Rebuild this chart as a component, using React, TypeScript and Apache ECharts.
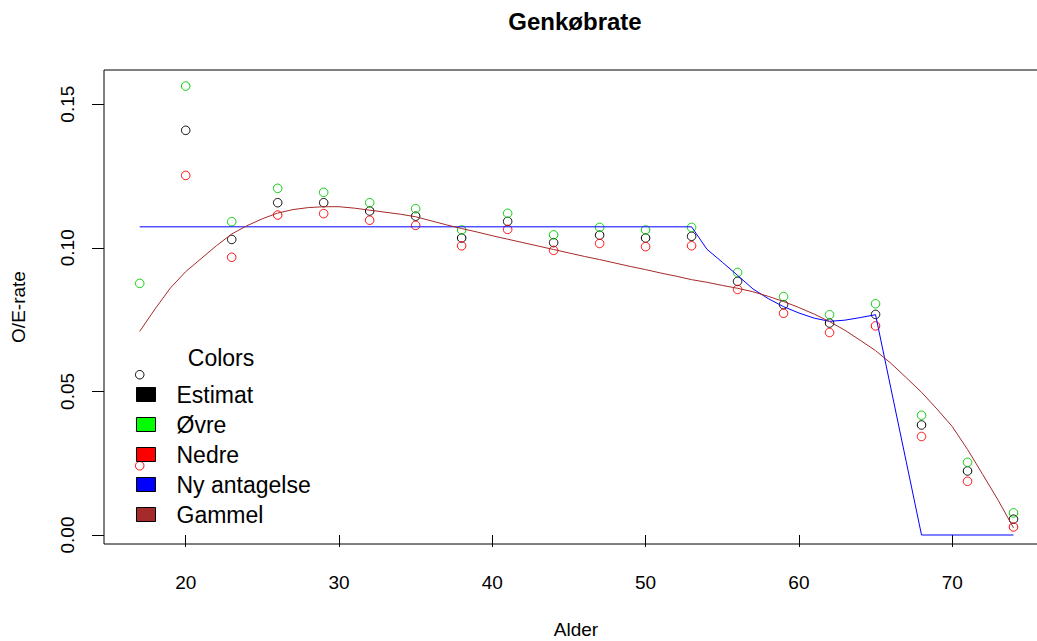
import React, { useEffect, useRef } from "react";
import * as echarts from "echarts";

const ages = [17, 20, 23, 26, 29, 32, 35, 38, 41, 44, 47, 50, 53, 56, 59, 62, 65, 68, 71, 74];
const estimat = [0.0558, 0.1409, 0.1029, 0.1157, 0.1157, 0.1128, 0.111, 0.1034, 0.1092, 0.1018, 0.1044, 0.1034, 0.104, 0.0883, 0.0802, 0.0738, 0.0768, 0.0383, 0.0223, 0.0055];
const ovre = [0.0876, 0.1563, 0.1091, 0.1207, 0.1193, 0.1157, 0.1136, 0.1062, 0.112, 0.1045, 0.1071, 0.1062, 0.1071, 0.0914, 0.083, 0.0767, 0.0805, 0.0417, 0.0253, 0.0077];
const nedre = [0.0241, 0.1252, 0.0967, 0.1114, 0.1119, 0.1096, 0.1078, 0.1007, 0.1064, 0.0991, 0.1015, 0.1004, 0.1007, 0.0855, 0.0772, 0.0705, 0.0728, 0.0343, 0.0187, 0.0028];

const nyAges = [17, 53, 54, 55, 56, 57, 58, 59, 60, 61, 62, 63, 64, 65, 66, 67, 68, 74];
const nyValues = [0.1073, 0.1073, 0.0995, 0.095, 0.0904, 0.0857, 0.0823, 0.0795, 0.0773, 0.0755, 0.0744, 0.0748, 0.0757, 0.0767, 0.0511, 0.0256, 0.0, 0.0];

const gamAges = [17, 18, 19, 20, 21, 22, 23, 24, 25, 26, 27, 28, 29, 30, 31, 32, 33, 34, 35, 36, 37, 38, 39, 40, 41, 42, 43, 44, 45, 46, 47, 48, 49, 50, 51, 52, 53, 54, 55, 56, 57, 58, 59, 60, 61, 62, 63, 64, 65, 66, 67, 68, 69, 70, 71, 72, 73, 74];
const gamValues = [0.0709, 0.0787, 0.086, 0.0917, 0.0962, 0.1007, 0.1048, 0.1077, 0.1101, 0.1121, 0.1133, 0.114, 0.1143, 0.1143, 0.1138, 0.1131, 0.1124, 0.1117, 0.1108, 0.1094, 0.108, 0.1067, 0.1055, 0.1042, 0.103, 0.1018, 0.1006, 0.0994, 0.0982, 0.097, 0.0959, 0.0947, 0.0935, 0.0924, 0.0912, 0.0901, 0.0889, 0.088, 0.0869, 0.0859, 0.0847, 0.0831, 0.0813, 0.0792, 0.0769, 0.0743, 0.0713, 0.0678, 0.0642, 0.0598, 0.0548, 0.0497, 0.0439, 0.0378, 0.0298, 0.021, 0.0121, 0.0025];

const xTicks = [20, 30, 40, 50, 60, 70];
const yTicks = [0, 0.05, 0.1, 0.15];

const FONT = "'Liberation Sans', Arial, sans-serif";

export default function App() {
  const ref = useRef<HTMLDivElement>(null);
  useEffect(() => {
    if (!ref.current) return;
    const chart = echarts.init(ref.current, undefined, { renderer: "svg" });
    const pts = (vals: number[]) => ages.map((a, i) => [a, vals[i]]);
    const scatter = (name: string, vals: number[], color: string) => ({
      name,
      type: "scatter",
      data: pts(vals),
      symbol: "circle",
      symbolSize: 8.5,
      itemStyle: { color: "rgba(0,0,0,0)", borderColor: color, borderWidth: 1, opacity: 1 },
      emphasis: { disabled: true },
    });
    const line = (name: string, xs: number[], ys: number[], color: string) => ({
      name,
      type: "line",
      data: xs.map((x, i) => [x, ys[i]]),
      symbol: "none",
      lineStyle: { color, width: 1 },
      itemStyle: { color },
      emphasis: { disabled: true },
    });
    const legItem = (name: string, color: string) => ({
      name,
      itemStyle: { color, borderColor: "#000", borderWidth: 1, opacity: 1 },
    });
    chart.setOption({
      animation: false,
      backgroundColor: "#ffffff",
      textStyle: { fontFamily: FONT },
      title: {
        text: "Genkøbrate",
        left: 575,
        top: 9,
        padding: 0,
        textAlign: "center",
        textStyle: { fontSize: 24, fontWeight: "bold", color: "#000", fontFamily: FONT },
      },
      grid: {
        show: true,
        left: 104,
        right: -11,
        top: 70,
        bottom: 97,
        containLabel: false,
        outerBoundsMode: "none",
        borderColor: "#000",
        borderWidth: 1,
        backgroundColor: "rgba(0,0,0,0)",
      },
      legend: {
        orient: "vertical",
        left: 136,
        top: 383,
        padding: 0,
        itemGap: 7,
        itemWidth: 19,
        itemHeight: 14,
        icon: "rect",
        selectedMode: false,
        textStyle: { fontSize: 23, color: "#000", fontFamily: FONT, padding: [0, 0, 0, 16] },
        data: [
          legItem("Estimat", "#000000"),
          legItem("Øvre", "#00FF00"),
          legItem("Nedre", "#FF0000"),
          legItem("Ny antagelse", "#0000FF"),
          legItem("Gammel", "#A52A2A"),
        ],
      },
      graphic: [
        {
          type: "text",
          x: 221,
          y: 358,
          style: {
            text: "Colors",
            fontSize: 23,
            fontFamily: FONT,
            fill: "#000",
            align: "center",
            verticalAlign: "middle",
          },
        },
      ],
      xAxis: {
        type: "value",
        min: 14.67,
        max: 76.25,
        name: "Alder",
        nameLocation: "middle",
        nameGap: 76,
        nameTextStyle: { fontSize: 19, color: "#000", fontFamily: FONT },
        axisLine: { show: false },
        axisTick: { show: true, inside: false, length: 12, lineStyle: { color: "#000" }, customValues: xTicks },
        axisLabel: { show: true, margin: 29, fontSize: 19, color: "#000", customValues: xTicks },
        splitLine: { show: false },
      },
      yAxis: {
        type: "value",
        min: -0.00313,
        max: 0.1619,
        name: "O/E-rate",
        nameLocation: "middle",
        nameRotate: 90,
        nameGap: 76,
        nameTextStyle: { fontSize: 19, color: "#000", fontFamily: FONT },
        axisLine: { show: false },
        axisTick: { show: true, inside: false, length: 12, lineStyle: { color: "#000" }, customValues: yTicks },
        axisLabel: {
          show: true,
          rotate: 90,
          margin: 27,
          fontSize: 19,
          color: "#000",
          customValues: yTicks,
          formatter: (v: number) => v.toFixed(2),
        },
        splitLine: { show: false },
      },
      series: [
        scatter("Estimat", estimat, "#000000"),
        scatter("Øvre", ovre, "#00CC00"),
        scatter("Nedre", nedre, "#FF0000"),
        line("Ny antagelse", nyAges, nyValues, "#0000FF"),
        line("Gammel", gamAges, gamValues, "#A52A2A"),
      ],
    });
    return () => chart.dispose();
  }, []);
  return (
    <div
      ref={ref}
      style={{ position: "absolute", left: 0, top: 0, width: 1037, height: 641 }}
    />
  );
}
